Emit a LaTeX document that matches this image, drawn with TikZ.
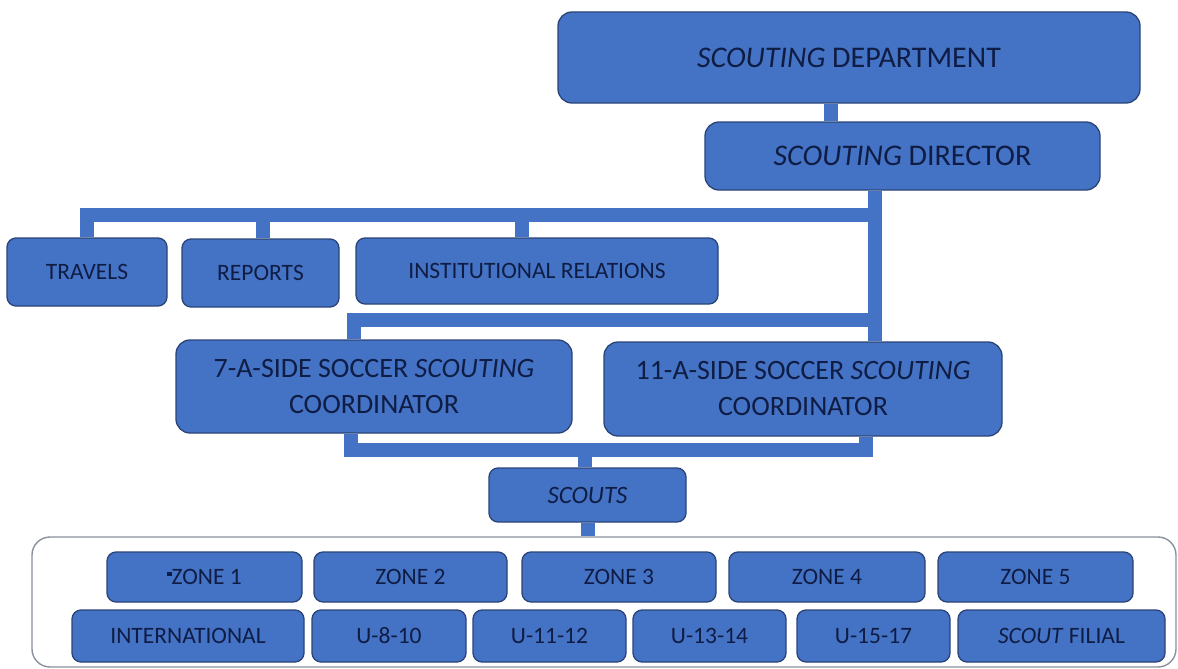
\documentclass[tikz,border=0pt]{standalone}
\usepackage{fontspec}
\setmainfont{Carlito}
\usetikzlibrary{backgrounds}
\definecolor{cblue}{HTML}{4472C4}
\definecolor{cedge}{HTML}{2B4478}
\definecolor{ctext}{HTML}{0F1D45}
\definecolor{cgray}{HTML}{8A909C}
\tikzset{
  box/.style={draw=cedge, line width=1.3pt, fill=cblue, rounded corners=9pt, text=ctext,
    align=center, inner sep=0pt, font=\fontsize{23.5}{27}\selectfont},
  bigbox/.style={box, rounded corners=14pt, font=\fontsize{30}{34}\selectfont},
  midbox/.style={box, rounded corners=14pt, font=\fontsize{28}{36}\selectfont},
  conn/.style={draw=cblue, line width=14pt, line join=miter},
  frame/.style={draw=cgray, line width=1.4pt, fill=white, rounded corners=18pt, inner sep=0pt},
}
\begin{document}
\begin{tikzpicture}[x=1pt,y=-1pt]
\useasboundingbox (0,0) rectangle (1178,669);
% top
\node[bigbox, minimum width=582, minimum height=91] (dept) at (849,57.5) {\textit{SCOUTING} DEPARTMENT};
\node[bigbox, minimum width=395, minimum height=68] (dir) at (902.5,156) {\textit{SCOUTING} DIRECTOR};
% staff
\node[box, minimum width=160, minimum height=68] (trav) at (87,272) {TRAVELS};
\node[box, minimum width=157, minimum height=68] (rep) at (260.5,273) {REPORTS};
\node[box, minimum width=362, minimum height=66] (inst) at (537,271) {INSTITUTIONAL RELATIONS};
% coordinators
\node[midbox, minimum width=396, minimum height=93] (c7) at (374,386.5) {7-A-SIDE SOCCER \textit{SCOUTING}\\COORDINATOR};
\node[midbox, minimum width=398, minimum height=94] (c11) at (803,389) {11-A-SIDE SOCCER \textit{SCOUTING}\\COORDINATOR};
% scouts
\node[box, minimum width=197, minimum height=54, font=\fontsize{25}{28}\selectfont] (scouts) at (587.5,495) {\textit{SCOUTS}};
% container
\node[frame, minimum width=1144, minimum height=130] (cont) at (604,602) {};
% zones
\node[box, minimum width=195, minimum height=50] (z1) at (204.5,577) {\rule[0.36em]{0.18em}{0.18em}ZONE 1};
\node[box, minimum width=193, minimum height=50] (z2) at (410.5,577) {ZONE 2};
\node[box, minimum width=194, minimum height=50] (z3) at (619,577) {ZONE 3};
\node[box, minimum width=196, minimum height=50] (z4) at (827,577) {ZONE 4};
\node[box, minimum width=195, minimum height=50] (z5) at (1035.5,577) {ZONE 5};
% categories
\node[box, minimum width=232, minimum height=52] (intl) at (188,636) {INTERNATIONAL};
\node[box, minimum width=154, minimum height=52] (u810) at (389,636) {U-8-10};
\node[box, minimum width=153, minimum height=52] (u1112) at (549.5,636) {U-11-12};
\node[box, minimum width=153, minimum height=52] (u1314) at (709.5,636) {U-13-14};
\node[box, minimum width=153, minimum height=52] (u1517) at (873.5,636) {U-15-17};
\node[box, minimum width=207, minimum height=52] (filial) at (1061.5,636) {\textit{SCOUT} FILIAL};
% junction coordinates
\coordinate (jd) at (831,0);
\coordinate (jx) at (875,0);
\coordinate (b1) at (875,215);
\coordinate (jr) at (263,0);
\coordinate (ji) at (522,0);
\coordinate (b2) at (875,320);
\coordinate (jl) at (354,0);
\coordinate (k1) at (351,450);
\coordinate (k2) at (866,450);
\coordinate (js) at (585,0);
\coordinate (jc) at (588,0);
\begin{scope}[on background layer]
\draw[conn] (dept.south -| jd) -- (dir.north -| jd);
\draw[conn] (dir.south -| jx) -- (c11.north -| jx);
\draw[conn] (trav.north) -- (trav.north |- b1) -- (b1);
\draw[conn] (rep.north -| jr) -- (b1 -| jr);
\draw[conn] (inst.north -| ji) -- (b1 -| ji);
\draw[conn] (c7.north -| jl) -- (b2 -| jl) -- (b2);
\draw[conn] (c7.south -| k1) -- (k1) -- (k2) -- (c11.south -| k2);
\draw[conn] (k1 -| js) -- (scouts.north -| js);
\draw[conn] (scouts.south -| jc) -- (cont.north -| jc);
\end{scope}
\end{tikzpicture}
\end{document}
